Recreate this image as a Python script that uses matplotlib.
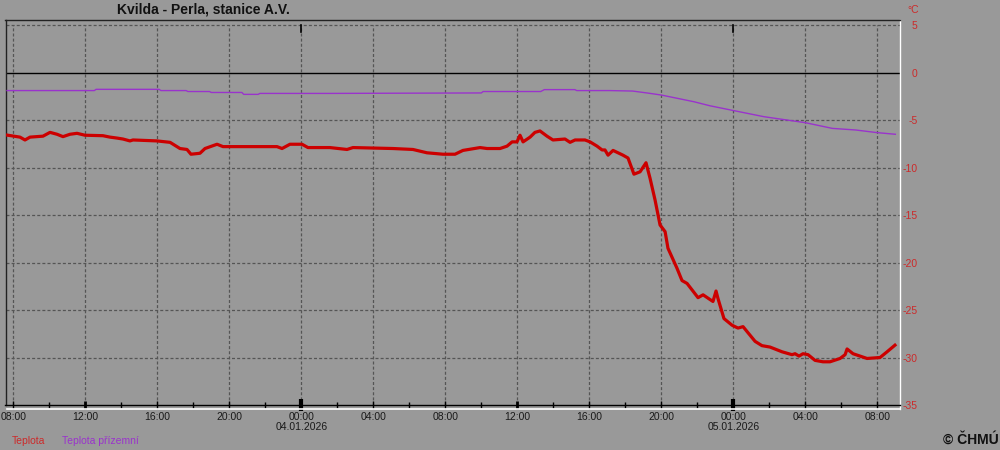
import matplotlib
matplotlib.use('Agg')
import matplotlib.pyplot as plt
from matplotlib.ticker import FixedLocator

plt.rcParams['font.family'] = ['Liberation Sans', 'DejaVu Sans']

# ---------------- data (hours since 03.01.2026 00:00) ----------------
red_hours = [7.63, 8.37, 8.65, 8.93, 9.65, 10.04, 10.43, 10.76, 11.15, 11.54, 11.98,
             12.98, 13.37, 13.76, 14.09, 14.48, 14.65, 15.98, 16.71, 17.26, 17.65, 17.87,
             18.37, 18.65, 19.32, 19.65, 22.65, 22.93, 23.37, 24.04, 24.37, 25.59, 26.54,
             26.87, 29.09, 30.20, 30.98, 31.87, 32.54, 32.98, 33.93, 34.32, 35.04, 35.43,
             35.71, 35.98, 36.15, 36.32, 36.71, 36.98, 37.26, 37.65, 37.98, 38.65, 38.93,
             39.21, 39.76, 40.04, 40.43, 40.71, 40.87, 41.04, 41.32, 41.87, 42.15, 42.48,
             42.82, 43.15, 43.37, 43.65, 43.93, 44.21, 44.37, 44.87, 45.15, 45.43, 46.04,
             46.32, 46.71, 46.87, 47.04, 47.15, 47.48, 47.93, 48.26, 48.54, 48.82, 49.21,
             49.59, 50.04, 50.71, 51.26, 51.43, 51.65, 51.87, 52.15, 52.54, 52.98, 53.37,
             53.93, 54.21, 54.32, 54.65, 55.43, 56.15, 56.54, 56.98]
red_vals = [-6.58, -6.8, -7.1, -6.8, -6.7, -6.3, -6.5, -6.75, -6.5, -6.4, -6.6,
            -6.65, -6.8, -6.9, -7.0, -7.2, -7.1, -7.2, -7.35, -8.0, -8.1, -8.6,
            -8.5, -8.0, -7.55, -7.8, -7.8, -8.0, -7.55, -7.55, -7.9, -7.9, -8.1,
            -7.9, -8.0, -8.1, -8.45, -8.6, -8.6, -8.2, -7.9, -8.0, -8.0, -7.75,
            -7.3, -7.3, -6.6, -7.3, -6.8, -6.3, -6.15, -6.7, -7.1, -7.0, -7.35,
            -7.1, -7.1, -7.3, -7.75, -8.15, -8.15, -8.7, -8.2, -8.7, -9.0, -10.7,
            -10.45, -9.5, -11.1, -13.4, -16.05, -16.75, -18.5, -20.6, -21.9, -22.2, -23.7,
            -23.4, -23.9, -24.1, -23.0, -23.8, -25.9, -26.6, -26.9, -26.75, -27.4, -28.3,
            -28.75, -28.9, -29.4, -29.7, -29.6, -29.85, -29.6, -29.7, -30.3, -30.45, -30.45,
            -30.1, -29.7, -29.1, -29.6, -30.1, -30.0, -29.4, -28.7]

purple_hours = [7.65, 12.5, 12.6, 16.1, 16.2, 17.6, 17.7, 18.9, 19.0, 20.7, 20.8, 21.6,
                21.7, 25.6, 34.0, 34.1, 37.3, 37.5, 39.2, 39.3, 41.1, 42.4, 43.2, 44.0,
                45.8, 46.7, 48.0, 49.7, 52.0, 53.5, 54.8, 56.0, 57.0]
purple_vals = [-1.9, -1.9, -1.77, -1.77, -1.9, -1.9, -2.0, -2.0, -2.1, -2.1, -2.3, -2.3,
               -2.2, -2.2, -2.15, -2.0, -2.0, -1.8, -1.8, -1.9, -1.9, -1.95, -2.15, -2.37,
               -3.07, -3.5, -4.0, -4.65, -5.28, -5.88, -6.05, -6.33, -6.5]

x_tick_hours = [8, 12, 16, 20, 24, 28, 32, 36, 40, 44, 48, 52, 56]
x_tick_labels = ['08:00', '12:00', '16:00', '20:00', '00:00\n04.01.2026', '04:00', '08:00',
                 '12:00', '16:00', '20:00', '00:00\n05.01.2026', '04:00', '08:00']
x_minor_hours = [10, 14, 18, 22, 26, 30, 34, 38, 42, 46, 50, 54]
y_ticks = [5, 0, -5, -10, -15, -20, -25, -30, -35]
y_tick_labels = ['5', '0', '-5', '-10', '-15', '-20', '-25', '-30', '-35']

title = 'Kvilda - Perla, stanice A.V.'
legend_names = ['Teplota', 'Teplota přízemní']

# ---------------- style ----------------
BG = '#999999'
RED = '#cc0000'
PURPLE = '#9933cc'
LBL_RED = '#cc2a2a'
GRID = '#555555'
DASH = (0, (2.4, 1.7))

fig = plt.figure(figsize=(10, 4.5), dpi=100, facecolor=BG)
ax = fig.add_axes([0.0055, 0.0911, 0.8945, 0.8644], facecolor=BG)
ax.set_xlim(7.567, 57.26)
ax.set_ylim(-35.42, 5.526)

ytop, ybot = y_ticks[0], y_ticks[-1]

# grid
for yv in y_ticks:
    if yv in (0, ybot):
        continue
    ax.axhline(yv, color=GRID, lw=0.9, ls=DASH, zorder=1)
for xv in x_tick_hours:
    ax.plot([xv, xv], [ybot, ytop], color=GRID, lw=0.9, ls=DASH, zorder=1)
    if xv % 24 == 0:
        ax.plot([xv, xv], [ytop, ytop - 0.7], color='black', lw=1.2, zorder=2)
ax.axhline(0, color='black', lw=1.0, zorder=2)

# series
ax.plot(purple_hours, purple_vals, color=PURPLE, lw=1.0, zorder=3)
ax.plot(red_hours, red_vals, color=RED, lw=2.3, zorder=4, solid_joinstyle='round')

# spines / frame
ax.spines['top'].set_color('#222222')
ax.spines['left'].set_color('#222222')
ax.spines['left'].set_bounds(ybot, 5.526)
ax.spines['right'].set_color('white')
ax.spines['bottom'].set_position(('data', ybot))
ax.spines['bottom'].set_color('black')
for s in ax.spines.values():
    s.set_linewidth(1.0)
ax.plot([0.002, 1], [0, 0], transform=ax.transAxes, color='white', lw=1.2, clip_on=False, zorder=5)

# x ticks
ax.xaxis.set_major_locator(FixedLocator(x_tick_hours))
ax.set_xticklabels(x_tick_labels)
ax.xaxis.set_minor_locator(FixedLocator(x_minor_hours))
ax.tick_params(axis='x', which='major', direction='inout', length=6, width=1, color='black',
               labelsize=7.5, labelcolor='#1a1a1a', pad=2)
ax.tick_params(axis='x', which='minor', direction='inout', length=5, width=1, color='black')
for lbl in ax.get_xticklabels():
    lbl.set_linespacing(1.05)
for hv, tk in zip(x_tick_hours, ax.xaxis.get_major_ticks()):
    if hv % 24 == 0:
        tk.tick1line.set_markeredgewidth(3)
        tk.tick1line.set_markersize(8)
    elif hv % 24 == 12:
        tk.tick1line.set_markeredgewidth(2)

# y ticks on right
ax.yaxis.tick_right()
ax.set_yticks(y_ticks)
ax.set_yticklabels(y_tick_labels)
ax.tick_params(axis='y', length=0, pad=12.5, labelsize=7.5, labelcolor=LBL_RED)
for lbl in ax.get_yticklabels():
    lbl.set_ha('right')

# texts
fig.text(0.203, 0.978, title, ha='center', va='center', fontsize=10, fontweight='bold', color='#111111')
fig.text(0.9185, 0.978, '°C', ha='right', va='center', fontsize=7.5, color=LBL_RED)
fig.text(0.012, 0.020, legend_names[0], ha='left', va='center', fontsize=7.5, color=LBL_RED)
fig.text(0.062, 0.020, legend_names[1], ha='left', va='center', fontsize=7.5, color=PURPLE)
fig.text(0.999, 0.022, '© ČHMÚ', ha='right', va='center', fontsize=10, fontweight='bold', color='#111111')

fig.savefig('out.png', dpi=100, facecolor=BG)
